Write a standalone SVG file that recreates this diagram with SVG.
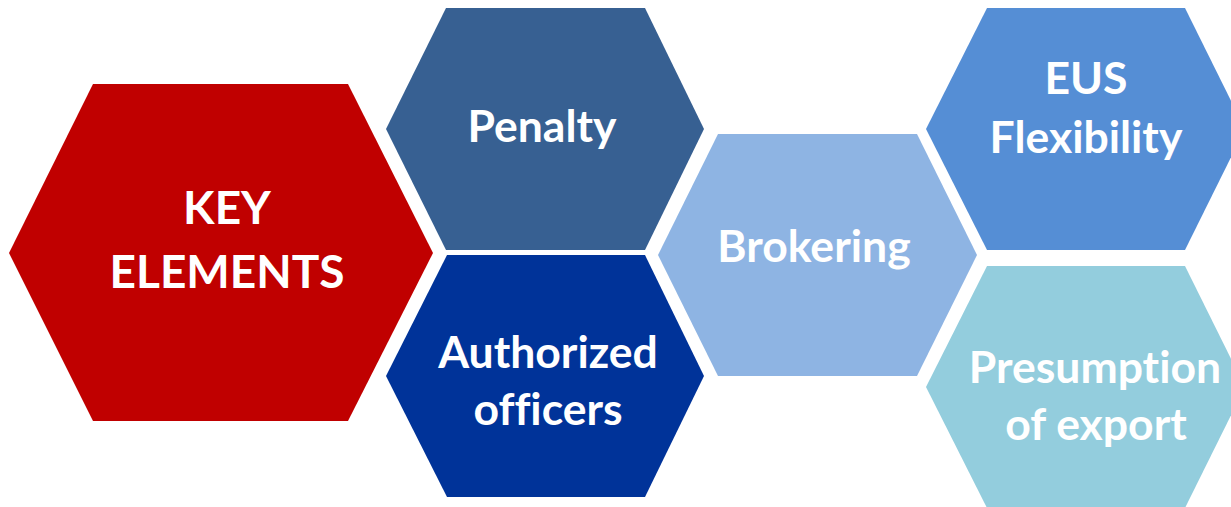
<svg xmlns="http://www.w3.org/2000/svg" width="1231" height="507" viewBox="0 0 1231 507">
<style>
.lbl{font-family:Lato,"Open Sans","Liberation Sans",sans-serif;font-weight:bold;fill:#FFFFFF;text-anchor:middle;font-size:44.5px;font-variant-ligatures:none;font-feature-settings:"liga" 0,"dlig" 0,"clig" 0}
.big{font-size:46px}
</style>
<rect width="1231" height="507" fill="#FFFFFF"/>
<g id="key-elements">
<polygon points="93,84 348,84 433,253 348,421 93,421 9,253" fill="#C00000"/>
<text class="lbl big" x="227" y="224">KEY</text>
<text class="lbl big" x="227" y="288">ELEMENTS</text>
</g>
<g id="penalty">
<polygon points="446,8 645,8 704,129 645,250 446,250 386,129" fill="#376092"/>
<text class="lbl" x="542" y="142">Penalty</text>
</g>
<g id="authorized-officers">
<polygon points="447,255 645,255 704,376 645,497 447,497 386,376" fill="#003399"/>
<text class="lbl" x="548" y="368">Authorized</text>
<text class="lbl" x="548" y="425">officers</text>
</g>
<g id="brokering">
<polygon points="718,134 917,134 977,255 917,376 718,376 658,255" fill="#8EB4E3"/>
<text class="lbl" x="814" y="262">Brokering</text>
</g>
<g id="eus-flexibility">
<polygon points="987,8 1185,8 1245,129 1185,250 987,250 926,129" fill="#558ED5"/>
<text class="lbl" x="1086" y="94">EUS</text>
<text class="lbl" x="1086" y="153">Flexibility</text>
</g>
<g id="presumption-of-export">
<polygon points="987,266 1185,266 1245,387 1185,508 987,508 926,387" fill="#93CDDD"/>
<text class="lbl" x="1095" y="383">Presumption</text>
<text class="lbl" x="1096" y="440">of export</text>
</g>
<g id="connectors"></g>
</svg>
